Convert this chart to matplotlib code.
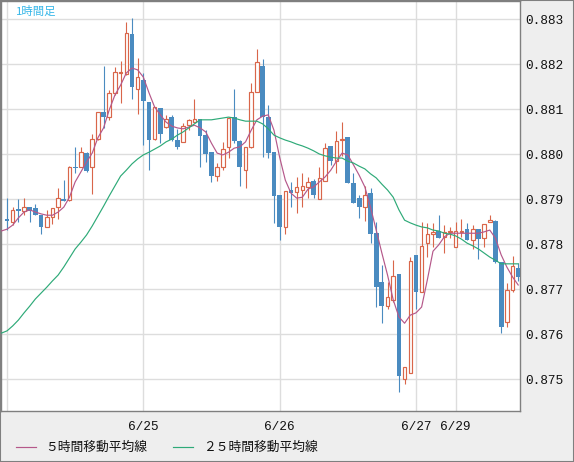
import numpy as np
import matplotlib
matplotlib.use("Agg")
import matplotlib.pyplot as plt
from matplotlib.lines import Line2D

# hourly candles, index 0 = 6/24 00:00
opens = [0.87856, 0.87849, 0.87878, 0.87873, 0.87882, 0.87880, 0.87864, 0.87838, 0.87860, 0.87882,
         0.87900, 0.87898, 0.87971, 0.87971, 0.88002, 0.87971, 0.88033, 0.88093, 0.88082, 0.88136,
         0.88180, 0.88178, 0.88267, 0.88144, 0.88164, 0.88116, 0.88033, 0.88102, 0.88060, 0.88082,
         0.88031, 0.88027, 0.88064, 0.88071, 0.88078, 0.88042, 0.88004, 0.87951, 0.87971, 0.88016,
         0.88082, 0.88029, 0.87964, 0.88016, 0.88138, 0.88196, 0.88082, 0.88004, 0.87909, 0.87838,
         0.87920, 0.87916, 0.87920, 0.87927, 0.87940, 0.87900, 0.87940, 0.88018, 0.87984, 0.88031,
         0.88038, 0.87936, 0.87902, 0.87882, 0.87913, 0.87824, 0.87716, 0.87662, 0.87676, 0.87733,
         0.87500, 0.87513, 0.87776, 0.87693, 0.87802, 0.87822, 0.87829, 0.87816, 0.87827, 0.87793,
         0.87827, 0.87833, 0.87809, 0.87833, 0.87813, 0.87849, 0.87851, 0.87760, 0.87627, 0.87698,
         0.87747]
highs = [0.87902, 0.87882, 0.87900, 0.87902, 0.87882, 0.87889, 0.87864, 0.87876, 0.87880, 0.87924,
         0.87942, 0.87973, 0.88016, 0.88016, 0.88004, 0.88044, 0.88093, 0.88196, 0.88142, 0.88193,
         0.88207, 0.88293, 0.88302, 0.88213, 0.88180, 0.88116, 0.88104, 0.88102, 0.88087, 0.88087,
         0.88056, 0.88069, 0.88078, 0.88122, 0.88078, 0.88053, 0.88004, 0.87980, 0.88027, 0.88082,
         0.88144, 0.88031, 0.88016, 0.88158, 0.88233, 0.88211, 0.88109, 0.88004, 0.87909, 0.87918,
         0.87938, 0.87949, 0.87958, 0.87949, 0.87944, 0.87971, 0.88024, 0.88018, 0.88051, 0.88071,
         0.88038, 0.87958, 0.87909, 0.87929, 0.87924, 0.87849, 0.87753, 0.87716, 0.87764, 0.87733,
         0.87527, 0.87771, 0.87776, 0.87849, 0.87847, 0.87847, 0.87864, 0.87842, 0.87838, 0.87849,
         0.87856, 0.87847, 0.87842, 0.87833, 0.87844, 0.87864, 0.87853, 0.87760, 0.87713, 0.87773,
         0.87758]
lows = [0.87831, 0.87842, 0.87849, 0.87864, 0.87849, 0.87864, 0.87822, 0.87838, 0.87844, 0.87856,
        0.87896, 0.87896, 0.87958, 0.87971, 0.87960, 0.87911, 0.88031, 0.88058, 0.88076, 0.88131,
        0.88113, 0.88176, 0.88122, 0.88089, 0.88020, 0.87964, 0.88031, 0.88024, 0.88058, 0.88029,
        0.88011, 0.88027, 0.88053, 0.88071, 0.87971, 0.87982, 0.87938, 0.87940, 0.87964, 0.87991,
        0.88024, 0.87929, 0.87924, 0.88013, 0.88138, 0.87993, 0.87991, 0.87847, 0.87809, 0.87822,
        0.87882, 0.87869, 0.87882, 0.87902, 0.87902, 0.87900, 0.87940, 0.87976, 0.87958, 0.87996,
        0.87936, 0.87891, 0.87858, 0.87851, 0.87802, 0.87660, 0.87624, 0.87656, 0.87671, 0.87471,
        0.87489, 0.87513, 0.87656, 0.87693, 0.87771, 0.87793, 0.87813, 0.87780, 0.87813, 0.87793,
        0.87816, 0.87809, 0.87789, 0.87767, 0.87793, 0.87849, 0.87758, 0.87602, 0.87616, 0.87693,
        0.87718]
closes = [0.87851, 0.87876, 0.87873, 0.87882, 0.87873, 0.87864, 0.87838, 0.87860, 0.87880, 0.87902,
          0.87896, 0.87971, 0.87969, 0.88004, 0.87962, 0.88033, 0.88093, 0.88082, 0.88136, 0.88182,
          0.88182, 0.88269, 0.88149, 0.88171, 0.88118, 0.88031, 0.88104, 0.88044, 0.88078, 0.88031,
          0.88016, 0.88062, 0.88076, 0.88078, 0.88040, 0.88000, 0.87951, 0.87971, 0.88011, 0.88080,
          0.88029, 0.87971, 0.88016, 0.88138, 0.88204, 0.88082, 0.88002, 0.87907, 0.87838, 0.87918,
          0.87913, 0.87927, 0.87929, 0.87938, 0.87909, 0.87947, 0.88013, 0.87984, 0.88029, 0.88033,
          0.87936, 0.87891, 0.87882, 0.87909, 0.87822, 0.87704, 0.87662, 0.87682, 0.87729, 0.87507,
          0.87527, 0.87762, 0.87693, 0.87796, 0.87822, 0.87827, 0.87813, 0.87827, 0.87829, 0.87829,
          0.87829, 0.87809, 0.87833, 0.87811, 0.87844, 0.87853, 0.87760, 0.87616, 0.87698, 0.87751,
          0.87727]

# moving averages, index -1 .. 90
ma5 = [0.87829, 0.87833, 0.87842, 0.87858, 0.87871, 0.87876, 0.87871, 0.87867, 0.87864, 0.87864,
       0.87871, 0.87882, 0.87904, 0.87938, 0.87960, 0.87982, 0.88002, 0.88036, 0.88058, 0.88098,
       0.88131, 0.88153, 0.88180, 0.88191, 0.88187, 0.88171, 0.88136, 0.88104, 0.88087, 0.88071,
       0.88062, 0.88058, 0.88056, 0.88060, 0.88064, 0.88058, 0.88049, 0.88024, 0.88002, 0.87998,
       0.88004, 0.88013, 0.88016, 0.88027, 0.88053, 0.88076, 0.88084, 0.88087, 0.88053, 0.87993,
       0.87942, 0.87913, 0.87902, 0.87904, 0.87922, 0.87927, 0.87938, 0.87949, 0.87964, 0.87984,
       0.88002, 0.87998, 0.87976, 0.87953, 0.87927, 0.87882, 0.87831, 0.87780, 0.87731, 0.87676,
       0.87638, 0.87624, 0.87642, 0.87647, 0.87660, 0.87720, 0.87784, 0.87798, 0.87816, 0.87824,
       0.87824, 0.87824, 0.87824, 0.87824, 0.87824, 0.87827, 0.87831, 0.87813, 0.87776, 0.87749,
       0.87727, 0.87709]
ma25 = [0.87602, 0.87607, 0.87618, 0.87631, 0.87647, 0.87662, 0.87678, 0.87691, 0.87704, 0.87718,
        0.87731, 0.87749, 0.87769, 0.87789, 0.87804, 0.87820, 0.87840, 0.87862, 0.87884, 0.87907,
        0.87929, 0.87951, 0.87964, 0.87978, 0.87989, 0.87998, 0.88004, 0.88011, 0.88018, 0.88027,
        0.88033, 0.88042, 0.88049, 0.88058, 0.88067, 0.88076, 0.88076, 0.88076, 0.88078, 0.88080,
        0.88082, 0.88080, 0.88076, 0.88073, 0.88073, 0.88073, 0.88067, 0.88056, 0.88042, 0.88036,
        0.88031, 0.88027, 0.88022, 0.88018, 0.88013, 0.88007, 0.88000, 0.87996, 0.87993, 0.87991,
        0.87991, 0.87984, 0.87980, 0.87973, 0.87967, 0.87956, 0.87947, 0.87933, 0.87920, 0.87904,
        0.87876, 0.87853, 0.87847, 0.87842, 0.87838, 0.87836, 0.87831, 0.87829, 0.87824, 0.87822,
        0.87818, 0.87811, 0.87802, 0.87796, 0.87789, 0.87780, 0.87771, 0.87764, 0.87756, 0.87756,
        0.87756, 0.87756]

day_pos = [0, 24, 48, 72, 79]
day_labels = ["", "6/25", "6/26", "6/27", "6/29"]
price_ticks = [0.875, 0.876, 0.877, 0.878, 0.879, 0.880, 0.881, 0.882, 0.883]

up_col = "#D9664A"
down_col = "#4A8BC0"

fig = plt.figure(figsize=(5.74, 4.62), dpi=100, facecolor="#EEEEEE")
ax = fig.add_axes([1 / 574, 51 / 462, 519 / 574, 410 / 462])
ax.set_facecolor("white")

o = np.array(opens)
h = np.array(highs)
l = np.array(lows)
c = np.array(closes)
idx = np.arange(len(o))
up = c >= o

ax.vlines(idx[up], l[up], h[up], color=up_col, lw=0.8, zorder=2)
ax.vlines(idx[~up], l[~up], h[~up], color=down_col, lw=0.8, zorder=2)

bot = np.minimum(o, c)
hgt = np.maximum(np.abs(c - o), 0.000012)
ax.bar(idx[up], hgt[up], bottom=bot[up], width=0.62, facecolor="white",
       edgecolor=up_col, linewidth=0.85, zorder=3)
ax.bar(idx[~up], hgt[~up], bottom=bot[~up], width=0.84, color=down_col,
       linewidth=0, zorder=3)

ma_x = np.arange(-1, len(ma5) - 1)
ax.plot(ma_x, ma5, color="#B5588A", lw=0.85, zorder=4)
ax.plot(ma_x, ma25, color="#2EAA78", lw=0.85, zorder=4)

ax.set_xlim(-1.056, 90.32)
ax.set_ylim(0.87429, 0.88340)
ax.set_xticks(day_pos)
ax.set_xticklabels(day_labels)
ax.set_yticks(price_ticks)
ax.set_yticklabels(["%.3f" % t for t in price_ticks])
ax.yaxis.tick_right()
ax.grid(True, color="#DDDDDD", lw=1.0, zorder=0)
ax.set_axisbelow(True)
ax.tick_params(axis="both", length=0, labelsize=9.2, colors="#111111")
ax.tick_params(axis="x", pad=7)
ax.tick_params(axis="y", pad=3.5)
for t in ax.get_xticklabels() + ax.get_yticklabels():
    t.set_fontfamily("Liberation Mono")
for s in ax.spines.values():
    s.set_color("#7F7F7F")
    s.set_linewidth(1.0)

ax.text(15 / 519, 1 - 10 / 410, "1時間足", transform=ax.transAxes, color="#35B6E8",
        fontsize=8.2, va="center", ha="left", family=["Noto Sans CJK JP", "DejaVu Sans"])

# legend along the bottom
ly = 15 / 462
fig.add_artist(Line2D([16 / 574, 36 / 574], [ly, ly], transform=fig.transFigure,
                      color="#B5588A", lw=0.85))
fig.text(45 / 574, ly, "５時間移動平均線", fontsize=9.2, va="center", color="#111111",
         family=["Noto Sans CJK JP", "DejaVu Sans"])
fig.add_artist(Line2D([173 / 574, 193 / 574], [ly, ly], transform=fig.transFigure,
                      color="#2EAA78", lw=0.85))
fig.text(203 / 574, ly, "２５時間移動平均線", fontsize=9.2, va="center", color="#111111",
         family=["Noto Sans CJK JP", "DejaVu Sans"])

fig.add_artist(plt.Rectangle((0, 0), 1, 1, transform=fig.transFigure, fill=False,
                             edgecolor="#7F7F7F", lw=1.5))

fig.savefig("out.png", dpi=100, facecolor=fig.get_facecolor())
